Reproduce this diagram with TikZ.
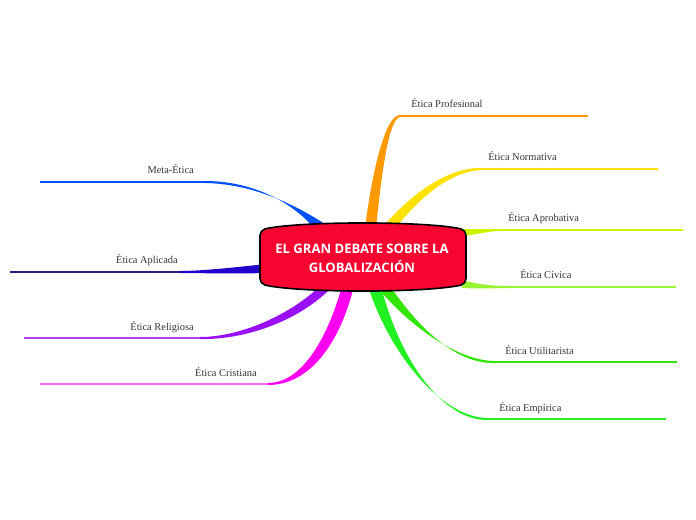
\documentclass[tikz,border=0pt]{standalone}
\usepackage{fontspec}
\setmainfont{Liberation Serif}
\newfontfamily\ctrfont{Open Sans}
\usetikzlibrary{calc}
\definecolor{cProf}{HTML}{FF9900}
\definecolor{cNorm}{HTML}{FFE100}
\definecolor{cAprob}{HTML}{CCF500}
\definecolor{cCiv}{HTML}{99F533}
\definecolor{cUtil}{HTML}{33E600}
\definecolor{cEmp}{HTML}{22F022}
\definecolor{cMeta}{HTML}{0050FF}
\definecolor{cApl}{HTML}{2200CC}
\definecolor{cAplL}{HTML}{20208A}
\definecolor{cRel}{HTML}{9910F5}
\definecolor{cRelL}{HTML}{B040E8}
\definecolor{cCri}{HTML}{FF00F0}
\definecolor{cCriL}{HTML}{FF66FF}
\definecolor{cRed}{HTML}{F5052F}
\definecolor{cTxt}{HTML}{333333}
\tikzset{
  lbl/.style={inner sep=0pt, text=cTxt, font=\fontsize{7.8}{9}\selectfont},
  thin/.style={line width=0.8pt},
  ctr/.style={draw=black, line width=1.2pt, fill=cRed, rounded corners=4pt},
  ctrtext/.style={text=white, align=center, font=\ctrfont\bfseries\fontsize{9.8}{14.5}\selectfont}
}
\begin{document}
\begin{tikzpicture}[x=0.75pt,y=-0.75pt]
\useasboundingbox (0,0) rectangle (696,520);
% coordinates
\coordinate (prE) at (400,116); \coordinate (prF) at (588,116);
\coordinate (noE) at (480,169); \coordinate (noF) at (658,169);
\coordinate (apE) at (500,230); \coordinate (apF) at (683,230);
\coordinate (ciE) at (510,287); \coordinate (ciF) at (676,287);
\coordinate (utE) at (495,362); \coordinate (utF) at (677,362);
\coordinate (emE) at (488,419); \coordinate (emF) at (666,419);
\coordinate (meE) at (205,182); \coordinate (meF) at (40,182);
\coordinate (alE) at (180,272); \coordinate (alF) at (10,272);
\coordinate (reE) at (200,338); \coordinate (reF) at (24,338);
\coordinate (crE) at (268,384); \coordinate (crF) at (40,384);
% tapered branches
\fill[cProf] (365,228) .. controls (371,180) and (384,115) .. (400,115) -- (400,117) .. controls (388,119) and (381,180) .. (376,228) -- cycle;
\fill[cNorm] (382,228) .. controls (414,190) and (450,168) .. (480,168) -- (480,170) .. controls (452,172) and (422,194) .. (394,230) -- cycle;
\fill[cAprob] (462,229) .. controls (480,229.5) and (490,229) .. (500,229) -- (500,231) .. controls (490,231) and (480,234) .. (462,236) -- cycle;
\fill[cCiv] (462,280) .. controls (480,285) and (495,286) .. (510,286) -- (510,288) .. controls (495,288) and (480,289) .. (462,288) -- cycle;
\fill[cUtil] (376,286) .. controls (413,330) and (460,361) .. (495,361) -- (495,363) .. controls (461,364) and (425,337) .. (390,286) -- cycle;
\fill[cEmp] (368,286) .. controls (388,350) and (440,418) .. (488,418) -- (488,420) .. controls (443,421) and (400,361) .. (381,286) -- cycle;
\fill[cMeta] (314,228) .. controls (290,200) and (250,181) .. (205,181) -- (205,183) .. controls (254,184) and (296,205) .. (328,226) -- cycle;
\fill[cApl] (266,264) .. controls (230,268) and (200,271) .. (180,271) -- (180,273) .. controls (200,273) and (230,274) .. (266,273) -- cycle;
\fill[cRel] (320,286) .. controls (290,315) and (240,337) .. (200,337) -- (200,339) .. controls (245,340) and (300,321) .. (333,286) -- cycle;
\fill[cCri] (342,286) .. controls (330,330) and (305,383) .. (268,383) -- (268,385) .. controls (310,385) and (340,343) .. (354,286) -- cycle;
% thin lines
\draw[thin,cProf] (prE) -- (prF);
\draw[thin,cNorm] (noE) -- (noF);
\draw[thin,cAprob] (apE) -- (apF);
\draw[thin,cCiv] (ciE) -- (ciF);
\draw[thin,cUtil] (utE) -- (utF);
\draw[thin,cEmp] (emE) -- (emF);
\draw[thin,cMeta] (meE) -- (meF);
\draw[thin,cAplL] (alE) -- (alF);
\draw[thin,cRelL] (reE) -- (reF);
\draw[thin,cCriL] (crE) -- (crF);
% labels
\node[lbl,anchor=base west] (prL) at ($(prE)+(11,-8)$) {Ética Profesional};
\node[lbl,anchor=base west] (noL) at ($(noE)+(8,-8)$) {Ética Normativa};
\node[lbl,anchor=base west] (apL) at ($(apE)+(8,-8)$) {Ética Aprobativa};
\node[lbl,anchor=base west] (ciL) at ($(ciE)+(10,-8)$) {Ética Cívica};
\node[lbl,anchor=base west] (utL) at ($(utE)+(10,-8)$) {Ética Utilitarista};
\node[lbl,anchor=base west] (emL) at ($(emE)+(11,-8)$) {Ética Empírica};
\node[lbl,anchor=base east] (meL) at ($(meE)+(-11,-8)$) {Meta-Ética};
\node[lbl,anchor=base east] (alL) at ($(alE)+(-2,-8)$) {Ética Aplicada};
\node[lbl,anchor=base east] (reL) at ($(reE)+(-6,-8)$) {Ética Religiosa};
\node[lbl,anchor=base east] (crL) at ($(crE)+(-11,-8)$) {Ética Cristiana};
% central topic
\draw[ctr] (260,230) .. controls (300,221) and (426,221) .. (466,230) -- (466,284) .. controls (426,293) and (300,293) .. (260,284) -- cycle;
\node[ctrtext] (root) at (362,258) {EL GRAN DEBATE SOBRE LA\\GLOBALIZACIÓN};
\end{tikzpicture}
\end{document}
